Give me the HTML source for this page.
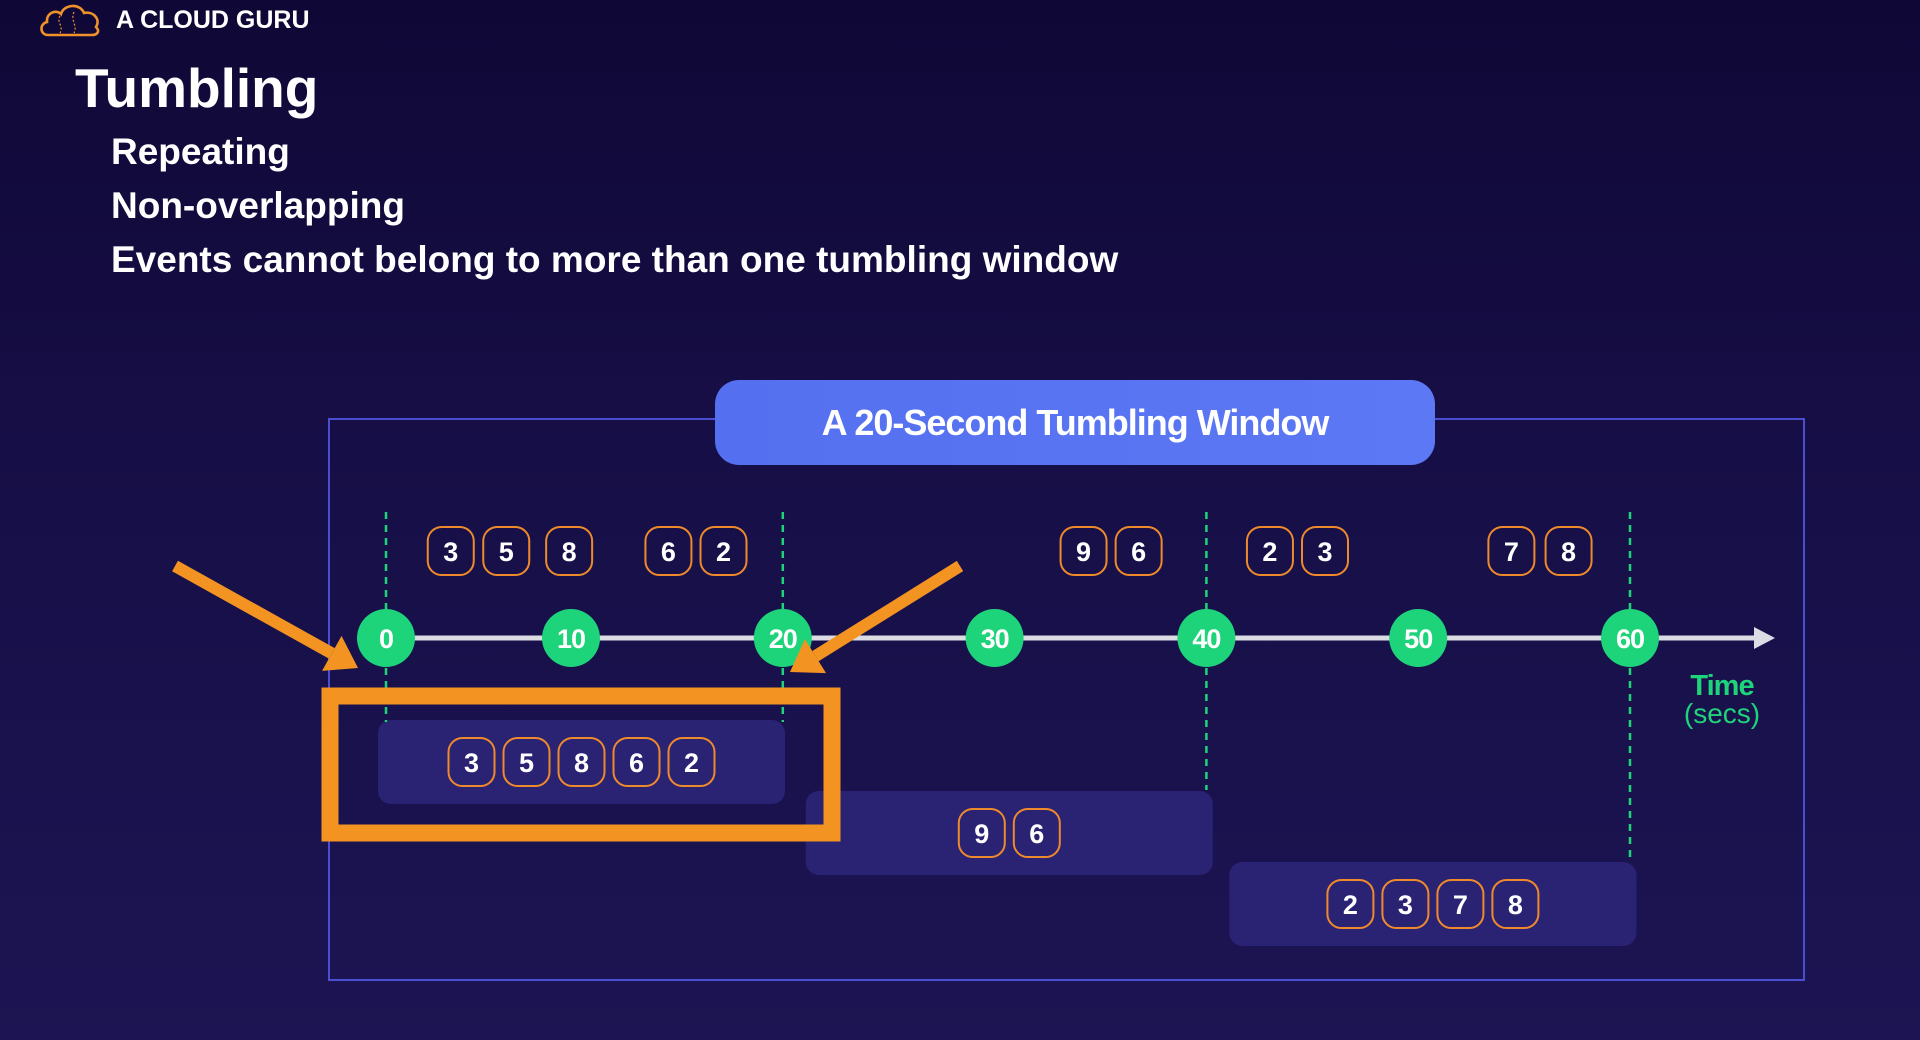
<!DOCTYPE html>
<html><head><meta charset="utf-8">
<style>
html,body{margin:0;padding:0;width:1920px;height:1040px;overflow:hidden;background:linear-gradient(180deg,#0f0836 0%,#160e45 40%,#1d1553 100%);font-family:"Liberation Sans",sans-serif;color:#fff}
.t{position:absolute;white-space:nowrap;font-weight:bold}
</style></head><body>
<div style="position:absolute;left:0;top:0;width:1920px;height:1040px">
<svg style="position:absolute;left:38px;top:2px" width="66" height="36" viewBox="0 0 66 36">
<path d="M10 33 C2 33 1 22 9 20 C8 11 18 7 23 12 C26 2 42 1 46 11 C55 9 63 17 58 25 C63 30 58 33 54 33 Z" fill="none" stroke="#f0922a" stroke-width="2.6"/>
<path d="M22 14 C18 20 26 24 22 31 M36 10 C32 18 40 24 36 31" fill="none" stroke="#f0922a" stroke-width="1.2" stroke-dasharray="2 2"/>
</svg>
<div class="t" style="left:116px;top:6px;font-size:25px">A CLOUD GURU</div>
<div class="t" style="left:75px;top:56px;font-size:55px">Tumbling</div>
<div class="t" style="left:111px;top:131px;font-size:37px">Repeating</div>
<div class="t" style="left:111px;top:185px;font-size:37px">Non-overlapping</div>
<div class="t" style="left:111px;top:239px;font-size:37px">Events cannot belong to more than one tumbling window</div>

<svg id="chart" style="position:absolute;left:0;top:0" width="1920" height="1040"></svg>
</div>
<script>
const tickValues=[0,10,20,30,40,50,60];
const eventTimes=[3.5,6.5,9.9,14.6,17.2,34.2,36.8,43.0,45.6,54.4,57.1];
const eventValues=[3,5,8,6,2,9,6,2,3,7,8];
const windowStarts=[0,20,40];
const windowSize=20;
const dividerTimes=[0,20,40,60];
const NS='http://www.w3.org/2000/svg';
const svg=document.getElementById('chart');
const AXY=638;
const bpT=[0,10,60],bpX=[386,571,1630];
function x(t){for(let i=0;i<bpT.length-1;i++){if(t<=bpT[i+1]||i===bpT.length-2){return bpX[i]+(t-bpT[i])*(bpX[i+1]-bpX[i])/(bpT[i+1]-bpT[i]);}}}
function mk(tag,attrs,parent){const e=document.createElementNS(NS,tag);for(const k in attrs)e.setAttribute(k,attrs[k]);(parent||svg).appendChild(e);return e;}
let fr=mk('rect',{x:329,y:419,width:1475,height:561,fill:'none',stroke:'#4a4fd0','stroke-width':2});


const rowY=[720,791,862];
function chip(cx,cy,val,name){
  const g=mk('g',{});
  
  
  mk('rect',{x:cx-23,y:cy-24,width:46,height:48,rx:14,fill:'none',stroke:'#ee8a2c','stroke-width':2},g);
  const t=mk('text',{x:cx,y:cy+10,'text-anchor':'middle','font-size':27,'font-weight':'bold',fill:'#fff','font-family':'Liberation Sans, sans-serif'},g);
  t.textContent=val;
}
const boxLeft=[],boxW=407;
windowStarts.forEach((ws,i)=>{
  const left=x(ws)+(i===0?-8:23);
  boxLeft.push(left);
  const r=mk('rect',{x:left,y:rowY[i],width:boxW,height:84,rx:13,fill:'#2a2272'});
  
  
});
const divEnd=[722,722,790,863];
dividerTimes.forEach((t,i)=>{
  const l=mk('line',{x1:x(t),x2:x(t),y1:512,y2:divEnd[i],stroke:'#1ed47a','stroke-width':2.5,'stroke-dasharray':'7 6'});
  
  
});
windowStarts.forEach((ws,i)=>{
  const idx=[];eventTimes.forEach((t,j)=>{if(t>=ws&&t<ws+windowSize)idx.push(j);});
  const cx=boxLeft[i]+boxW/2;
  idx.forEach((j,k)=>chip(cx+(k-(idx.length-1)/2)*55,rowY[i]+42,eventValues[j],'window-'+(i+1)+'-event-'+eventValues[j]));
});
let ax=mk('line',{x1:x(0),x2:1758,y1:AXY,y2:AXY,stroke:'#dcdce4','stroke-width':5});


let ah=mk('polygon',{points:'1754,627 1775,638 1754,649',fill:'#dcdce4'});


tickValues.forEach(v=>{
  const g=mk('g',{});
  
  
  mk('circle',{cx:x(v),cy:AXY,r:29,fill:'#1ed47a'},g);
  const t=mk('text',{x:x(v),y:AXY+10,'text-anchor':'middle','font-size':27,'font-weight':'bold',fill:'#fff','font-family':'Liberation Sans, sans-serif','letter-spacing':'-1'},g);
  t.textContent=v;
});
eventTimes.forEach((t,j)=>chip(x(t),551,eventValues[j],'event-'+eventValues[j]+'-at-'+t));
let hl=mk('rect',{x:330,y:696,width:502,height:137,fill:'none',stroke:'#f39422','stroke-width':17});


function arrow(x1,y1,x2,y2,name){
  const g=mk('g',{});
  
  
  const dx=x2-x1,dy=y2-y1,L=Math.hypot(dx,dy),ux=dx/L,uy=dy/L,px=-uy,py=ux;
  const bx=x2-ux*30,by=y2-uy*30;
  mk('line',{x1:x1,y1:y1,x2:bx,y2:by,stroke:'#f39422','stroke-width':12},g);
  mk('polygon',{points:`${x2},${y2} ${bx+px*20},${by+py*20} ${bx-px*20},${by-py*20}`,fill:'#f39422'},g);
}
arrow(175,566,358,668,'left-arrow');
arrow(960,566,790,672,'right-arrow');
let tl=mk('text',{x:1722,y:695,'text-anchor':'middle','font-size':29,'font-weight':'bold',fill:'#1ed47a','font-family':'Liberation Sans, sans-serif','letter-spacing':'-1'});
tl.textContent='Time';


let tu=mk('text',{x:1722,y:723,'text-anchor':'middle','font-size':28,fill:'#1ed47a','font-family':'Liberation Sans, sans-serif'});
tu.textContent='(secs)';


</script>
<div style="position:absolute;left:715px;top:380px;width:720px;height:85px;border-radius:24px;background:linear-gradient(90deg,#5470f0,#5d78f4);display:flex;align-items:center;justify-content:center;font-weight:bold;font-size:36px;letter-spacing:-1px">A 20-Second Tumbling Window</div>
</body></html>
